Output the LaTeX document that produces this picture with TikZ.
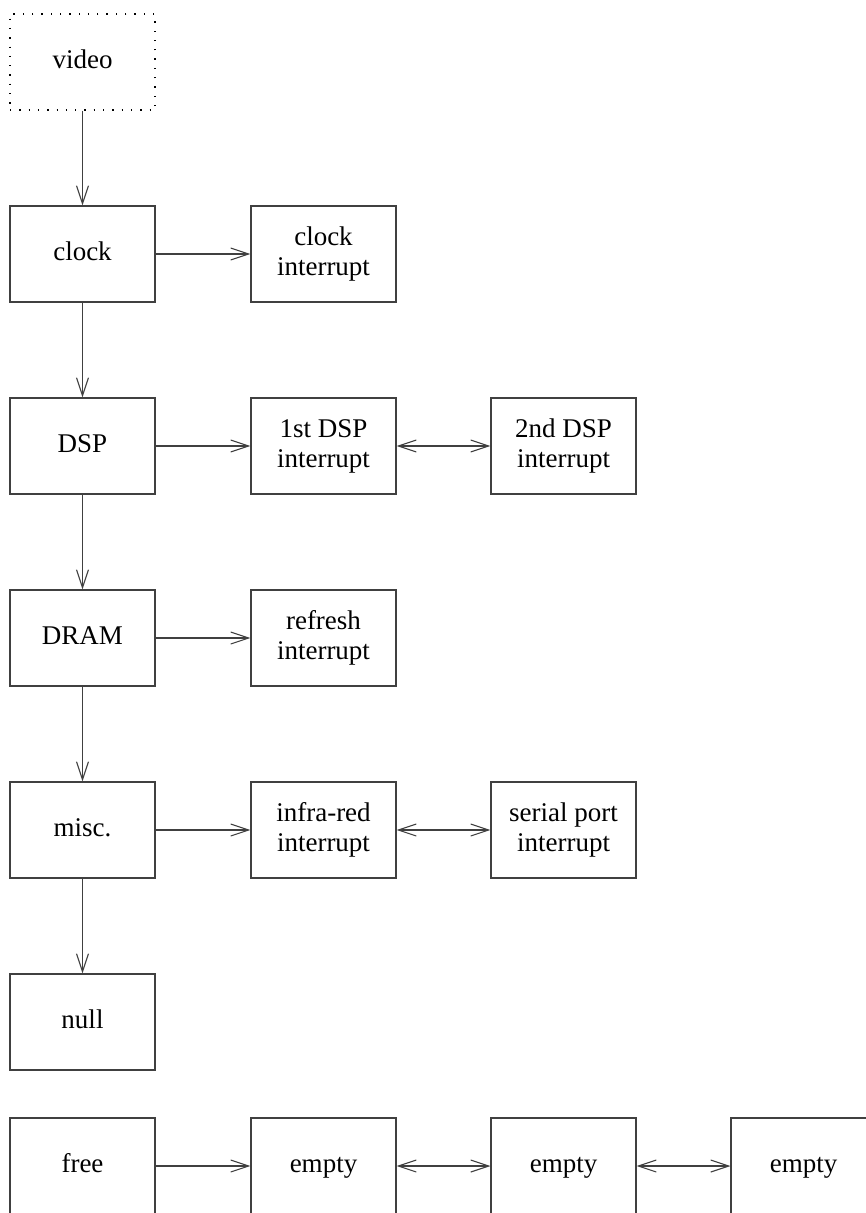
\documentclass[tikz,border=0pt]{standalone}
\usepackage{fontspec}
\setmainfont{Liberation Serif}
\usetikzlibrary{arrows.meta}
\begin{document}
\begin{tikzpicture}[x=1pt,y=-1pt,
  box/.style={draw=black!75, line width=1.1pt, minimum width=145pt,
    minimum height=96pt, inner sep=0pt, align=center,
    font=\fontsize{27}{30}\selectfont},
  onebox/.style={box, text height=18.5pt, text depth=6pt},
  dotbox/.style={onebox, draw=black, line width=1.3pt,
    dash pattern=on 1.3pt off 8pt},
  link/.style={draw=black!75, line width=1.1pt,
    -{Straight Barb[length=18pt,width=12pt,line width=1.1pt]}},
  dlink/.style={link,
    {Straight Barb[length=18pt,width=12pt,line width=1.1pt]}-{Straight Barb[length=18pt,width=12pt,line width=1.1pt]}}]
\useasboundingbox (0,0) rectangle (866,1213);
\clip (0,0) rectangle (866,1213);

% main column
\node[dotbox] (video) at (82.5,62) {video};
\node[onebox] (clock) at (82.5,254) {clock};
\node[onebox] (dsp) at (82.5,446) {DSP};
\node[onebox] (dram) at (82.5,638) {DRAM};
\node[onebox] (misc) at (82.5,830) {misc.};
\node[onebox] (null) at (82.5,1022) {null};

% interrupt handlers
\node[box] (clkint) at (323.5,254) {clock\\interrupt};
\node[box] (dspa) at (323.5,446) {1st DSP\\interrupt};
\node[box] (dspb) at (563.5,446) {2nd DSP\\interrupt};
\node[box] (refint) at (323.5,638) {refresh\\interrupt};
\node[box] (irint) at (323.5,830) {infra-red\\interrupt};
\node[box] (serint) at (563.5,830) {serial port\\interrupt};

% free list
\node[onebox] (free) at (82.5,1166) {free};
\node[onebox] (emptya) at (323.5,1166) {empty};
\node[onebox] (emptyb) at (563.5,1166) {empty};
\node[onebox] (emptyc) at (803.5,1166) {empty};

\draw[link] (video) -- (clock);
\draw[link] (clock) -- (dsp);
\draw[link] (dsp) -- (dram);
\draw[link] (dram) -- (misc);
\draw[link] (misc) -- (null);

\draw[link] (clock) -- (clkint);
\draw[link] (dsp) -- (dspa);
\draw[dlink] (dspa) -- (dspb);
\draw[link] (dram) -- (refint);
\draw[link] (misc) -- (irint);
\draw[dlink] (irint) -- (serint);

\draw[link] (free) -- (emptya);
\draw[dlink] (emptya) -- (emptyb);
\draw[dlink] (emptyb) -- (emptyc);
\end{tikzpicture}
\end{document}
